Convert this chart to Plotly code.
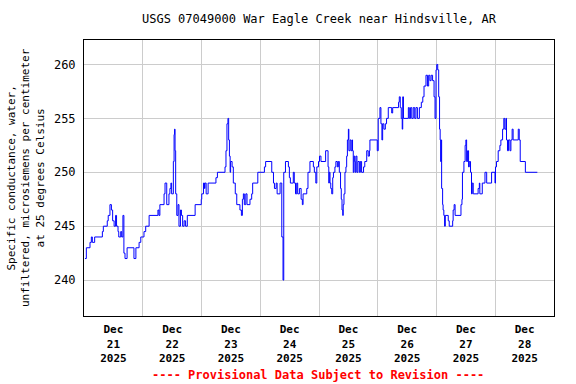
import pandas as pd
import plotly.graph_objects as go

# Hours since 2025-12-21 00:00 at which the reading changes, and the reading from then on
hours = [0.4, 0.95, 2.45, 3.0, 3.4, 4.36, 7.5, 7.9, 9.5, 9.9, 10.6, 11.2, 11.7, 12.3, 12.9, 13.3,
         13.9, 14.2, 15.0, 15.4, 15.9, 16.3, 16.75, 17.6, 20.4, 21.2, 22.5, 23.2, 24.5, 25.2, 26.6,
         30.2, 30.6, 31.0, 32.7, 33.1, 33.8, 34.7, 35.1, 35.5, 35.8, 36.5, 36.8, 37.0, 37.2, 37.45,
         37.9, 38.4, 38.8, 39.4, 39.8, 40.3, 40.9, 41.5, 42.2, 45.4, 47.9,
         48.1, 48.8, 49.2, 49.4, 49.9, 50.7, 53.9, 54.5, 57.6, 58.0, 58.4, 58.8, 59.1, 59.4, 59.7,
         59.9, 60.5, 61.0, 61.8, 62.4, 63.7, 64.3, 64.7, 65.1, 65.5, 66.1, 66.6, 67.8, 68.5, 68.9,
         71.0, 73.7, 74.2, 76.7, 77.4, 77.8, 78.5, 78.9, 80.1, 80.8, 81.3, 81.6, 82.3, 83.5, 83.9,
         84.3, 85.5, 85.9, 86.4, 86.9, 87.3, 88.0, 88.7, 89.2, 89.5, 91.0, 91.5, 92.3, 93.7, 94.1,
         94.7, 95.1, 95.8, 96.2,
         96.8, 98.7, 99.7, 100.0, 100.2, 100.5, 100.8, 101.2, 101.6, 101.9, 102.5, 102.9, 103.5,
         103.9, 104.3, 104.8, 105.1, 105.4, 105.7, 105.9, 106.2, 106.6, 107.0, 107.3, 107.6, 108.0,
         108.2, 108.7, 109.1, 109.5, 109.7, 110.0, 110.3, 110.6, 110.8, 111.1, 111.5, 111.9, 112.5,
         112.9, 113.4, 114.2, 114.7, 115.5, 116.1, 116.6, 116.8, 119.8, 120.2, 120.9, 121.3, 121.7,
         122.0, 122.5, 123.1, 123.6, 124.3, 125.7, 126.1, 128.5, 128.8, 129.2, 129.6, 130.0, 130.2,
         130.5, 132.5, 132.9, 133.4, 133.9, 134.5, 135.1, 135.6, 136.2, 137.0, 137.8, 138.4, 138.9,
         139.7, 140.3, 140.8, 141.3, 141.8, 142.4, 143.0, 143.4, 143.8, 144.1, 144.5, 144.9,
         145.25, 145.5, 145.7, 145.9, 146.1, 146.5, 146.7, 147.0, 147.3, 147.6, 148.8, 149.2, 150.6,
         150.8, 151.2, 151.6, 154.0, 154.4, 154.6, 155.2, 155.7, 156.0, 156.3, 156.7, 157.1, 157.4,
         157.9, 158.3, 158.6, 159.0, 161.0, 161.5, 161.7, 162.7, 163.8, 164.5, 166.5, 167.9, 168.1,
         168.5, 169.2, 169.9, 170.3, 171.0, 171.5, 171.9, 172.4, 172.6, 173.0, 173.4, 174.0, 174.4,
         174.9, 175.3, 177.4, 177.8, 178.2, 180.3, 185.2]
values = [242, 243, 243.5, 244, 243.5, 244, 244.5, 245, 245.5, 246, 247, 246.5, 245.5, 245, 246, 245,
          244.5, 244, 244.5, 244, 246, 242.5, 242, 243, 242, 243, 243.5, 244, 244.5, 245, 246,
          246.5, 246, 247, 248, 249, 247, 248, 248.5, 249, 248, 251, 253.5, 254, 252, 248,
          246, 247, 245, 246.5, 246, 245, 245.5, 245, 246, 247, 247.5,
          248, 249, 248.5, 249, 248, 249, 249.5, 250, 250.5, 252, 254.5, 255, 253, 251.5, 250,
          251, 250.5, 249, 248, 247, 246.5, 246, 247.5, 248, 247, 248, 247, 247.5, 248, 249,
          250, 250.5, 251, 250, 249, 248.5, 249, 248, 249, 244, 240, 250, 251, 250.5, 249.5,
          249, 250, 249, 248, 249, 248, 248.5, 247.5, 247, 248, 248.5, 250, 251, 250.5, 250,
          249, 250.5, 251, 251.5,
          251, 252, 250.5, 249, 250, 249, 248.5, 248, 249.5, 250, 250.5, 251, 250.5,
          251, 250, 248.5, 247.5, 246.5, 246, 247, 248, 250, 250.5, 251.5, 253, 254,
          252, 253, 252, 253, 252, 250, 251.5, 251, 250, 251.5, 250, 251, 250,
          251, 250, 250.5, 251, 252, 251.5, 252, 253, 252, 255, 256, 254.5, 253,
          254.5, 254, 254.5, 255, 256, 255.5, 256, 256.5, 257, 256, 255, 254, 257,
          255, 256, 255, 256, 255, 256, 255, 256, 255, 256, 256.5, 257, 258,
          259, 258, 259, 258.5, 259, 258.5, 257, 255, 259.5, 260, 259.5, 257,
          254, 253, 251, 253, 248.5, 247, 246.5, 246, 245, 246, 245.5, 245, 245.5,
          246.5, 247, 246, 247, 247.5, 250, 251, 252.5, 253, 251, 252, 250.5, 251,
          250, 248, 249, 248, 248.5, 249, 248, 249, 250, 249, 250, 249, 250.5,
          251, 252, 252.5, 253, 254, 255, 254, 255, 253, 252, 253, 252, 253,
          254, 253, 254, 253, 251, 250, 250]

day_labels = ["Dec<br>21<br>2025", "Dec<br>22<br>2025", "Dec<br>23<br>2025", "Dec<br>24<br>2025",
              "Dec<br>25<br>2025", "Dec<br>26<br>2025", "Dec<br>27<br>2025", "Dec<br>28<br>2025"]
y_ticks = [240, 245, 250, 255, 260]

base = pd.Timestamp("2025-12-21 00:00")
x = [base + pd.Timedelta(hours=h) for h in hours]
noons = [base + pd.Timedelta(hours=12 + 24 * i) for i in range(8)]
midnights = [base + pd.Timedelta(days=i) for i in range(1, 8)]

MONO = "DejaVu Sans Mono"

fig = go.Figure()
fig.add_trace(go.Scatter(x=x, y=values, mode="lines", line=dict(color="#0000ff", width=1, shape="hv"),
                         hoverinfo="skip", showlegend=False))

fig.update_layout(
    width=576, height=384,
    margin=dict(l=84, r=22, t=40, b=68),
    paper_bgcolor="white", plot_bgcolor="white",
    title=dict(text="USGS 07049000 War Eagle Creek near Hindsville, AR",
               x=0.5, xref="paper", xanchor="center", y=1 - 19 / 384, yanchor="middle",
               font=dict(family=MONO, size=12, color="black")),
    showlegend=False,
)

fig.update_xaxes(
    range=[base, base + pd.Timedelta(days=8)],
    tickmode="array", tickvals=noons, ticktext=day_labels,
    showgrid=False, ticks="outside", ticklen=3, tickcolor="rgba(0,0,0,0)",
    tickfont=dict(family=MONO, size=11, color="black", weight="bold"),
    showline=True, linecolor="black", linewidth=1, mirror=True, zeroline=False,
    minor=dict(tickvals=midnights, showgrid=True, gridcolor="#cccccc", gridwidth=1, ticks=""),
)
fig.update_yaxes(
    range=[236.67, 262.27],
    tickmode="array", tickvals=y_ticks, ticktext=[str(v) for v in y_ticks],
    showgrid=True, gridcolor="#cccccc", gridwidth=1,
    ticks="outside", ticklen=5, tickcolor="rgba(0,0,0,0)",
    tickfont=dict(family=MONO, size=12, color="black"),
    showline=True, linecolor="black", linewidth=1, mirror=True, zeroline=False,
)

fig.add_annotation(
    text="Specific conductance, water,<br>unfiltered, microsiemens per centimeter<br>at 25 degrees Celsius",
    xref="paper", yref="paper", x=(26 - 84) / 470, y=0.5, xanchor="center", yanchor="middle",
    textangle=-90, showarrow=False, font=dict(family=MONO, size=11, color="black"),
)
fig.add_annotation(
    text="---- Provisional Data Subject to Revision ----",
    xref="paper", yref="paper", x=0.498, y=(316 - 375) / 276, xanchor="center", yanchor="middle",
    showarrow=False, font=dict(family=MONO, size=12, color="red", weight="bold"),
)

fig.write_html("out.html",
               config={"displayModeBar": False},
               post_script="document.body.style.margin='0';document.body.style.padding='0';")
